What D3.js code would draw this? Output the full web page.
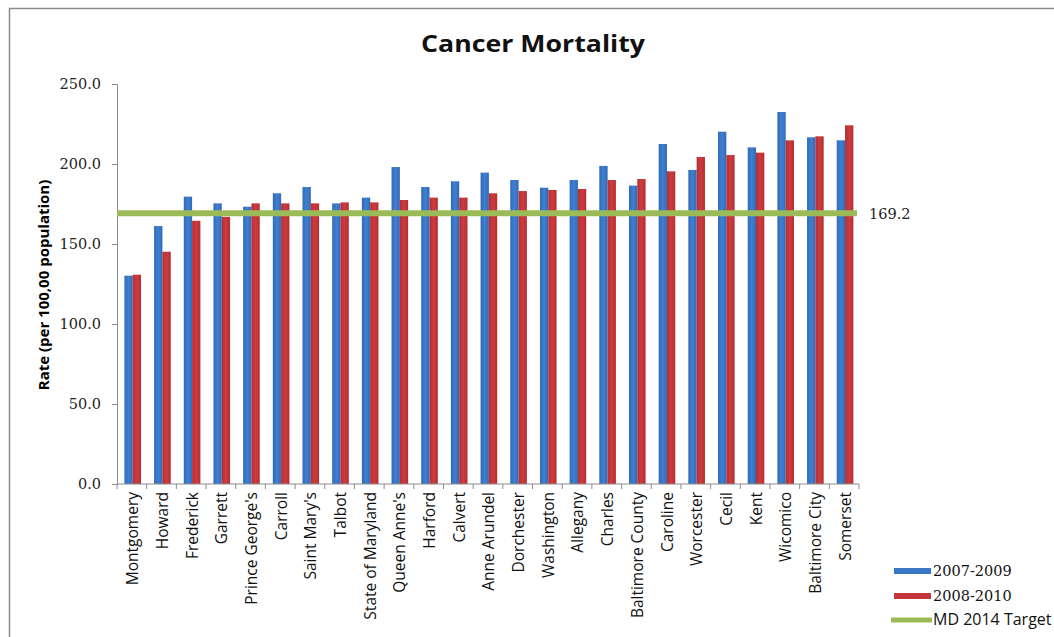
<!DOCTYPE html>
<html>
<head>
<meta charset="utf-8">
<title>Cancer Mortality</title>
<script src="https://d3js.org/d3.v7.min.js"></script>
<style>
  body { margin: 0; background: #fff; }
  svg { display: block; }
</style>
</head>
<body>
<div id="chart"></div>
<script>
// data
const counties = ["Montgomery", "Howard", "Frederick", "Garrett", "Prince George's", "Carroll",
  "Saint Mary's", "Talbot", "State of Maryland", "Queen Anne's", "Harford", "Calvert",
  "Anne Arundel", "Dorchester", "Washington", "Allegany", "Charles", "Baltimore County",
  "Caroline", "Worcester", "Cecil", "Kent", "Wicomico", "Baltimore City", "Somerset"];
const rate0709 = [130.2, 161.2, 179.6, 175.4, 173.3, 181.7, 185.6, 175.4, 179.0, 198.1, 185.6, 189.2,
  194.6, 190.0, 185.2, 190.0, 198.8, 186.5, 212.5, 196.3, 220.2, 210.4, 232.5, 216.7, 214.8];
const rate0810 = [130.8, 145.2, 164.5, 167.0, 175.4, 175.4, 175.4, 176.0, 176.0, 177.5, 179.0, 179.0,
  181.7, 183.1, 183.8, 184.4, 190.0, 190.6, 195.4, 204.4, 205.6, 207.1, 214.8, 217.3, 224.2];
const seriesNames = ["2007-2009", "2008-2010"];
const target = 169.2;
const yTicks = [0, 50, 100, 150, 200, 250];

const W = 1054, H = 637;
const plotL = 117, plotR = 859, plotT = 84, plotB = 484;
const sans = "'Open Sans', Lato, sans-serif";
const numFont = "'DejaVu Serif', serif";

const svg = d3.select("#chart").append("svg")
  .attr("width", W).attr("height", H);

// gradients for the bars
const defs = svg.append("defs");
function grad(id, edge, mid) {
  const g = defs.append("linearGradient").attr("id", id)
    .attr("x1", "0%").attr("x2", "100%").attr("y1", "0%").attr("y2", "0%");
  g.append("stop").attr("offset", "0%").attr("stop-color", edge);
  g.append("stop").attr("offset", "50%").attr("stop-color", mid);
  g.append("stop").attr("offset", "100%").attr("stop-color", edge);
}
grad("gBlue", "#3169b6", "#3f80d2");
grad("gRed", "#b32f33", "#cd3b3f");
const fills = ["url(#gBlue)", "url(#gRed)"];
const legendCol = ["#3a76c6", "#c4363a"];

// outer border
svg.append("rect").attr("x", 9.5).attr("y", 8.5)
  .attr("width", W + 20).attr("height", H + 20)
  .attr("fill", "none").attr("stroke", "#8a8a8a").attr("stroke-width", 1.5);

const x0 = d3.scaleBand().domain(counties).range([plotL, plotR]);
const bw = x0.bandwidth();
const x1 = d3.scaleBand().domain(seriesNames).range([bw * 0.25, bw * 0.81]);
const y = d3.scaleLinear().domain([0, 250]).range([plotB, plotT]);

// title
svg.append("text").attr("x", 533).attr("y", 52)
  .attr("text-anchor", "middle")
  .style("font-family", sans)
  .style("font-weight", "bold").style("font-size", "23px").attr("fill", "#111")
  .attr("textLength", 224).attr("lengthAdjust", "spacingAndGlyphs")
  .text("Cancer Mortality");

// bars
const rows = counties.map((c, i) => ({ c: c, v: [rate0709[i], rate0810[i]] }));
const grp = svg.append("g").selectAll("g").data(rows).join("g")
  .attr("transform", d => `translate(${x0(d.c)},0)`);
grp.selectAll("rect").data(d => d.v.map((v, k) => ({ k: k, v: v }))).join("rect")
  .attr("x", d => x1(seriesNames[d.k]))
  .attr("width", x1.bandwidth())
  .attr("y", d => y(d.v))
  .attr("height", d => y(0) - y(d.v))
  .attr("fill", d => fills[d.k]);

// y axis
const yAxis = svg.append("g").attr("transform", `translate(${plotL},0)`)
  .call(d3.axisLeft(y).tickValues(yTicks).tickFormat(d3.format(".1f")).tickSize(5).tickPadding(11));
yAxis.select(".domain").attr("stroke", "#8c8c8c");
yAxis.selectAll(".tick line").attr("stroke", "#8c8c8c");
yAxis.selectAll("text")
  .style("font-family", numFont).style("font-size", "14.5px").attr("fill", "#222");

// x axis: ticks on category boundaries
const xg = svg.append("g");
xg.append("line").attr("x1", plotL).attr("x2", plotR)
  .attr("y1", y(0)).attr("y2", y(0)).attr("stroke", "#8c8c8c");
xg.selectAll("line.tk").data(counties.concat(["end"])).join("line").attr("class", "tk")
  .attr("x1", (d, i) => plotL + i * bw).attr("x2", (d, i) => plotL + i * bw)
  .attr("y1", y(0)).attr("y2", y(0) + 5).attr("stroke", "#8c8c8c");
xg.selectAll("text").data(counties).join("text")
  .attr("transform", d => `translate(${x0(d) + bw / 2 + 1},${y(0) + 8}) rotate(-90)`)
  .attr("text-anchor", "end").attr("dy", "0.35em")
  .style("font-family", sans).style("font-size", "15.5px").attr("fill", "#111")
  .text(d => d);

// y axis title
svg.append("text")
  .attr("transform", "translate(49,285) rotate(-90)")
  .attr("text-anchor", "middle")
  .style("font-family", sans)
  .style("font-weight", "bold").style("font-size", "15px")
  .text("Rate (per 100,00 population)");

// target line
svg.append("line").attr("x1", plotL).attr("x2", plotR - 2)
  .attr("y1", y(target)).attr("y2", y(target))
  .attr("stroke", "#9bbb59").attr("stroke-width", 6);
svg.append("text").attr("x", 869).attr("y", y(target) + 6)
  .style("font-family", numFont).style("font-size", "14.5px").attr("fill", "#222")
  .text(target.toFixed(1));

// legend
const lg = svg.append("g").attr("transform", "translate(894,0)");
const legendItems = [
  { name: seriesNames[0], col: legendCol[0], y: 571, kind: "bar", font: numFont, size: "14.5px" },
  { name: seriesNames[1], col: legendCol[1], y: 596, kind: "bar", font: numFont, size: "14.5px" },
  { name: "MD 2014 Target", col: "#9bbb59", y: 620, kind: "line", font: sans, size: "16px" }
];
legendItems.forEach(it => {
  if (it.kind === "bar") {
    lg.append("rect").attr("x", 0).attr("y", it.y - 3).attr("width", 37).attr("height", 6).attr("fill", it.col);
  } else {
    lg.append("line").attr("x1", -3).attr("x2", 38).attr("y1", it.y).attr("y2", it.y)
      .attr("stroke", it.col).attr("stroke-width", 5);
  }
  lg.append("text").attr("x", 39).attr("y", it.y + 5)
    .style("font-family", it.font).style("font-size", it.size).attr("fill", "#111")
    .text(it.name);
});
</script>
</body>
</html>
